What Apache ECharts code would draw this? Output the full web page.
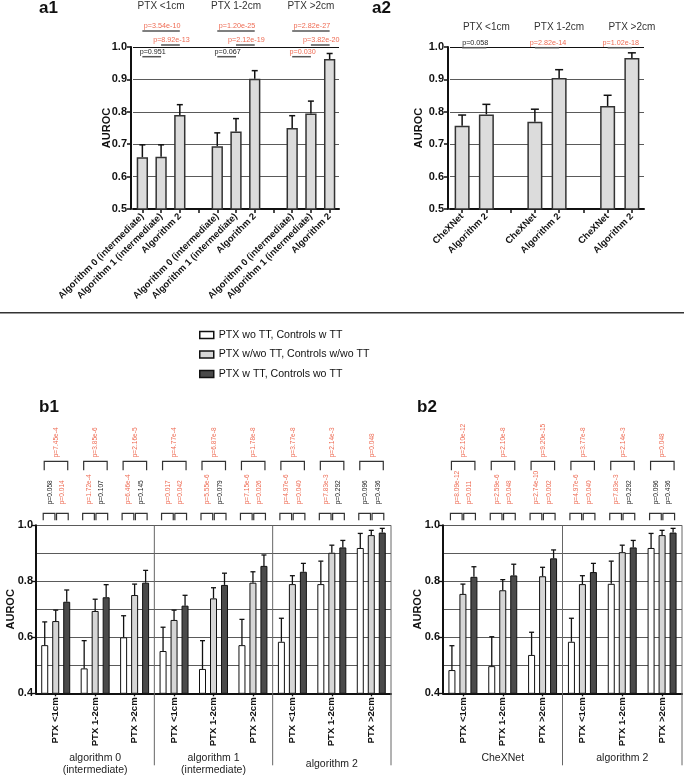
<!DOCTYPE html>
<html><head><meta charset="utf-8">
<script src="https://cdn.jsdelivr.net/npm/echarts@6/dist/echarts.min.js"></script>
<style>html,body{margin:0;padding:0;background:#fff}#c{width:684px;height:776px}</style>
</head><body><div id="c"></div>
<script>
// ---------------- data ----------------
const a1Categories = ['Algorithm 0 (intermediate)','Algorithm 1 (intermediate)','Algorithm 2','',
  'Algorithm 0 (intermediate)','Algorithm 1 (intermediate)','Algorithm 2','',
  'Algorithm 0 (intermediate)','Algorithm 1 (intermediate)','Algorithm 2'];
const a1Auroc = [0.660,0.661,0.790,null,0.694,0.739,0.902,null,0.750,0.795,0.963];
const a1Upper = [0.698,0.698,0.822,null,0.735,0.779,0.927,null,0.788,0.833,0.980];
const a1Groups = ['PTX <1cm','PTX 1-2cm','PTX >2cm'];
const a1GroupCenter = [1,5,9];
const a1PairFrom = [0,1,0, 4,5,4, 8,9,8];
const a1PairTo   = [2,2,1, 6,6,5, 10,10,9];
const a1PairLevel= [0,1,2, 0,1,2, 0,1,2];
const a1PValues  = ['3.54e-10','8.92e-13','0.951','1.20e-25','2.12e-19','0.067','2.82e-27','3.82e-20','0.030'];

const a2Categories = ['CheXNet','Algorithm 2','','CheXNet','Algorithm 2','','CheXNet','Algorithm 2'];
const a2Auroc = [0.757,0.792,null,0.769,0.904,null,0.818,0.966];
const a2Upper = [0.790,0.823,null,0.808,0.930,null,0.851,0.982];
const a2Groups = ['PTX <1cm','PTX 1-2cm','PTX >2cm'];
const a2GroupCenter = [0.5,3.5,6.5];
const a2PairFrom = [0,3,6];
const a2PairTo = [1,4,7];
const a2PValues = ['0.058','2.82e-14','1.02e-18'];

const seriesNames = ['PTX wo TT, Controls w TT','PTX w/wo TT, Controls w/wo TT','PTX w TT, Controls wo TT'];

const b1Categories = ['PTX <1cm','PTX 1-2cm','PTX >2cm','PTX <1cm','PTX 1-2cm','PTX >2cm','PTX <1cm','PTX 1-2cm','PTX >2cm'];
const b1Sections = ['algorithm 0\n(intermediate)','algorithm 1\n(intermediate)','algorithm 2'];
const b1White      = [0.572,0.489,0.600,0.551,0.487,0.572,0.584,0.790,0.919];
const b1WhiteUpper = [0.655,0.588,0.677,0.636,0.588,0.664,0.668,0.872,0.971];
const b1Light      = [0.658,0.694,0.751,0.662,0.739,0.795,0.790,0.902,0.965];
const b1LightUpper = [0.697,0.736,0.790,0.697,0.777,0.834,0.820,0.929,0.982];
const b1Dark       = [0.727,0.743,0.795,0.713,0.787,0.855,0.834,0.921,0.974];
const b1DarkUpper  = [0.769,0.788,0.839,0.750,0.829,0.894,0.864,0.946,0.989];
const b1PTop = ['7.45e-4','3.85e-6','2.16e-5','4.77e-4','6.87e-8','1.78e-8','3.77e-8','2.14e-3','0.048'];
const b1PWL  = ['0.058','1.72e-4','6.46e-4','0.017','5.55e-6','7.15e-6','4.97e-6','7.83e-3','0.096'];
const b1PLD  = ['0.014','0.107','0.145','0.042','0.079','0.026','0.040','0.292','0.436'];

const b2Categories = ['PTX <1cm','PTX 1-2cm','PTX >2cm','PTX <1cm','PTX 1-2cm','PTX >2cm'];
const b2Sections = ['CheXNet','algorithm 2'];
const b2White      = [0.483,0.497,0.537,0.584,0.791,0.919];
const b2WhiteUpper = [0.570,0.602,0.618,0.668,0.872,0.971];
const b2Light      = [0.755,0.768,0.818,0.790,0.904,0.965];
const b2LightUpper = [0.790,0.806,0.850,0.820,0.929,0.982];
const b2Dark       = [0.816,0.821,0.882,0.833,0.921,0.974];
const b2DarkUpper  = [0.852,0.861,0.912,0.864,0.946,0.989];
const b2PTop = ['2.10e-12','2.10e-8','9.20e-15','3.77e-8','2.14e-3','0.048'];
const b2PWL  = ['8.09e-12','2.59e-6','2.74e-10','4.97e-6','7.83e-3','0.096'];
const b2PLD  = ['0.011','0.048','0.002','0.040','0.292','0.436'];

// ---------------- style ----------------
const RED = '#ee6a52', BLACK = '#222';
const FA = "'Liberation Sans',Arial,sans-serif";
const pColor = s => parseFloat(s) < 0.05 ? RED : BLACK;
const GRIDC = '#5a5a5a';

function aErrSeries(xi, vals, ups, cap) {
  const data = [];
  vals.forEach((v, i) => { if (v != null) data.push([i, v, ups[i]]); });
  return { type:'custom', xAxisIndex:xi, yAxisIndex:xi, z:5, data, encode:{x:0,y:1},
    renderItem(p, api) {
      const b = api.coord([api.value(0), api.value(1)]);
      const t = api.coord([api.value(0), api.value(2)]);
      return { type:'group', children:[
        {type:'line', shape:{x1:b[0],y1:b[1],x2:t[0],y2:t[1]}, style:{stroke:'#111',lineWidth:1.5}},
        {type:'line', shape:{x1:t[0]-cap/2,y1:t[1],x2:t[0]+cap/2,y2:t[1]}, style:{stroke:'#111',lineWidth:1.5}}
      ]};
    }};
}

function bErrSeries(xi, sets, offs) {
  const data = [];
  sets.forEach((s, k) => s[0].forEach((v, i) => data.push([i, v, s[1][i], offs[k]])));
  return { type:'custom', xAxisIndex:xi, yAxisIndex:xi, z:5, data, encode:{x:0,y:1},
    renderItem(p, api) {
      const o = api.value(3);
      const b = api.coord([api.value(0), api.value(1)]);
      const t = api.coord([api.value(0), api.value(2)]);
      const x = b[0] + o;
      return { type:'group', children:[
        {type:'line', shape:{x1:x,y1:b[1],x2:x,y2:t[1]}, style:{stroke:'#111',lineWidth:1.3}},
        {type:'line', shape:{x1:x-2.5,y1:t[1],x2:x+2.5,y2:t[1]}, style:{stroke:'#111',lineWidth:1.3}}
      ]};
    }};
}

function vText(x, y, s) {
  return {type:'text', x, y, rotation:Math.PI/2,
    style:{x:0, y:0, text:'p=' + s, align:'left', verticalAlign:'middle', fill:pColor(s), fontSize:6.6, fontFamily:FA}};
}

function bAnnotSeries(xi, nCat, pTop, pWL, pLD) {
  const data = [];
  for (let i = 0; i < nCat; i++) data.push([i, 1.0]);
  return { type:'custom', xAxisIndex:xi, yAxisIndex:xi, z:6, data, encode:{x:0,y:1}, clip:false,
    renderItem(p, api) {
      const i = api.value(0);
      const c = api.coord([i, 1.0]);
      const xc = c[0], yT = c[1];
      const br = (x1, x2, yTop, leg) => ({type:'polyline',
        shape:{points:[[x1, yTop + leg],[x1, yTop],[x2, yTop],[x2, yTop + leg]]},
        style:{stroke:'#333', lineWidth:1.2, fill:null}});
      const ys = yT - 12, yl = yT - 64;
      return {type:'group', children:[
        br(xc - 12.5, xc - 0.8, ys, 7),
        br(xc + 0.8, xc + 12.5, ys, 7),
        br(xc - 11.5, xc + 12, yl, 9),
        vText(xc - 6, yT - 21, pWL[i]),
        vText(xc + 6.5, yT - 21, pLD[i]),
        vText(xc + 0.5, yT - 68, pTop[i])
      ]};
    }};
}

function bSepSeries(xi, idxs) {
  return { type:'custom', xAxisIndex:xi, yAxisIndex:xi, z:1, data: idxs.map(i => [i, 1.0]), encode:{x:0,y:1}, clip:false,
    renderItem(p, api) {
      const band = api.size([1, 0])[0];
      const c = api.coord([api.value(0), 1.0]);
      const bot = api.coord([api.value(0), 0.4])[1];
      const x = c[0] + band / 2;
      return {type:'line', shape:{x1:x, y1:c[1], x2:x, y2:bot + 72}, style:{stroke:'#666', lineWidth:1}};
    }};
}

function aAnnotSeries(xi, from, to, levels, pv, levelOff) {
  const data = from.map((f, k) => [f, 1.0, to[k], levels[k]]);
  return { type:'custom', xAxisIndex:xi, yAxisIndex:xi, z:6, data, encode:{x:0,y:1}, clip:false,
    renderItem(p, api) {
      const x1 = api.coord([api.value(0), 1.0])[0];
      const x2 = api.coord([api.value(2), 1.0])[0];
      const yT = api.coord([api.value(0), 1.0])[1];
      const ly = yT + levelOff[api.value(3)];
      const s = pv[p.dataIndex];
      return {type:'group', children:[
        {type:'line', shape:{x1, y1:ly, x2, y2:ly}, style:{stroke:'#555', lineWidth:1.5}},
        {type:'text', style:{x:(x1 + x2) / 2 + 1, y:ly - 1.2, text:'p=' + s, align:'center', verticalAlign:'bottom',
          fill:pColor(s), fontSize:7.2, fontFamily:FA}}
      ]};
    }};
}

function aTitleSeries(xi, centers, names, dy) {
  return { type:'custom', xAxisIndex:xi, yAxisIndex:xi, z:6, data: centers.map(c => [c, 1.0]), encode:{x:0,y:1}, clip:false,
    renderItem(p, api) {
      const c = api.coord([api.value(0), 1.0]);
      return {type:'text', style:{x:c[0], y:c[1] + dy, text:names[p.dataIndex], align:'center', verticalAlign:'middle',
        fill:'#333', fontSize:10, fontFamily:FA}};
    }};
}

const aX = (gi, data) => ({type:'category', gridIndex:gi, data,
  axisLine:{show:true, lineStyle:{color:'#111', width:2}},
  axisTick:{show:true, alignWithLabel:true, length:4, lineStyle:{color:'#111', width:1.5}},
  axisLabel:{interval:0, rotate:45, margin:6, fontSize:9.4, fontWeight:'bold', fontFamily:FA, color:'#111'},
  splitLine:{show:false}});
const aY = (gi, gap) => ({type:'value', gridIndex:gi, min:0.5, max:1.0, interval:0.1, offset:2,
  name:'AUROC', nameLocation:'middle', nameGap:gap, nameMoveOverlap:false,
  nameTextStyle:{fontSize:11, fontWeight:'bold', fontFamily:FA, color:'#111'},
  axisLine:{show:true, lineStyle:{color:'#111', width:2}},
  axisTick:{show:true, length:4, lineStyle:{color:'#111', width:1.5}},
  axisLabel:{margin:4, fontSize:11, fontWeight:'bold', fontFamily:FA, color:'#111', formatter:v => v.toFixed(1)},
  splitLine:{show:true, lineStyle:{color:[GRIDC, GRIDC, GRIDC, GRIDC, GRIDC, '#111'], width:1}}});
const bX = (gi, data) => ({type:'category', gridIndex:gi, data,
  axisLine:{show:true, lineStyle:{color:'#111', width:2}},
  axisTick:{show:true, alignWithLabel:true, length:3, lineStyle:{color:'#111', width:1.3}},
  axisLabel:{interval:0, rotate:90, margin:4, fontSize:9.6, fontWeight:'bold', fontFamily:FA, color:'#111'},
  splitLine:{show:false}});
const bSecX = (gi, data, margin, va) => ({type:'category', gridIndex:gi, data, position:'bottom',
  axisLine:{show:false}, axisTick:{show:false}, splitLine:{show:false},
  axisLabel:{interval:0, margin, verticalAlign:va, lineHeight:12, fontSize:10.5, fontFamily:FA, color:'#222'}});
const bY = (gi) => ({type:'value', gridIndex:gi, min:0.4, max:1.0, interval:0.2,
  name:'AUROC', nameLocation:'middle', nameGap:20, nameMoveOverlap:false,
  nameTextStyle:{fontSize:11, fontWeight:'bold', fontFamily:FA, color:'#111'},
  axisLine:{show:true, lineStyle:{color:'#111', width:2}},
  axisTick:{show:true, length:4, lineStyle:{color:'#111', width:1.3}},
  minorTick:{show:false, splitNumber:2},
  axisLabel:{margin:3, fontSize:11, fontWeight:'bold', fontFamily:FA, color:'#111', formatter:v => v.toFixed(1)},
  splitLine:{show:true, lineStyle:{color:GRIDC, width:1}},
  minorSplitLine:{show:true, lineStyle:{color:GRIDC, width:1}}});

const BCOL = ['#ffffff', '#d6d6d6', '#4a4a4a'];
const bBar = (xi, name, data, k) => ({type:'bar', name, xAxisIndex:xi, yAxisIndex:xi, data,
  barWidth:7, barGap:'57%', z:3,
  itemStyle:{color:BCOL[k], borderColor:'#111', borderWidth:1}});
const aBar = (xi, data, w) => ({type:'bar', xAxisIndex:xi, yAxisIndex:xi, data, barWidth:w, z:3,
  itemStyle:{color:'#dcdcdc', borderColor:'#333', borderWidth:1.5}});

const option = {
  animation:false,
  backgroundColor:'#fff',
  grid:[
    {left:133, top:47, width:206, height:162, outerBoundsMode:'none', containLabel:false},
    {left:450, top:47, width:194, height:162, outerBoundsMode:'none', containLabel:false},
    {left:36, top:525.3, width:355, height:168, outerBoundsMode:'none', containLabel:false},
    {left:443, top:525.3, width:239, height:168, outerBoundsMode:'none', containLabel:false}
  ],
  xAxis:[aX(0, a1Categories), aX(1, a2Categories), bX(2, b1Categories), bX(3, b2Categories),
    bSecX(2, b1Sections, 70.5, 'middle'), bSecX(3, b2Sections, 65, 'middle')],
  yAxis:[aY(0, 19), aY(1, 24), bY(2), bY(3)],
  legend:{orient:'vertical', left:199, top:328, itemWidth:14, itemHeight:7, itemGap:5.5, icon:'rect', padding:0,
    selectedMode:false, textStyle:{fontFamily:FA, fontSize:10.6, color:'#111', lineHeight:14},
    itemStyle:{borderColor:'#111', borderWidth:1.5}, data:seriesNames},
  graphic:[
    {type:'text', left:39, top:0, style:{text:'a1', fontSize:17, fontWeight:'bold', fontFamily:FA, fill:'#111'}},
    {type:'text', left:372, top:0, style:{text:'a2', fontSize:17, fontWeight:'bold', fontFamily:FA, fill:'#111'}},
    {type:'text', left:39, top:399, style:{text:'b1', fontSize:17, fontWeight:'bold', fontFamily:FA, fill:'#111'}},
    {type:'text', left:417, top:399, style:{text:'b2', fontSize:17, fontWeight:'bold', fontFamily:FA, fill:'#111'}},
    {type:'line', shape:{x1:0, y1:312.7, x2:684, y2:312.7}, style:{stroke:'#333', lineWidth:1.5}}
  ],
  series:[
    aBar(0, a1Auroc, 11.3), aErrSeries(0, a1Auroc, a1Upper, 6),
    aAnnotSeries(0, a1PairFrom, a1PairTo, a1PairLevel, a1PValues, [-16, -2, 9.7]),
    aTitleSeries(0, a1GroupCenter, a1Groups, -41),
    aBar(1, a2Auroc, 15), aErrSeries(1, a2Auroc, a2Upper, 8),
    aAnnotSeries(1, a2PairFrom, a2PairTo, [0,0,0], a2PValues, [0.7]),
    aTitleSeries(1, a2GroupCenter, a2Groups, -19.3),
    bSepSeries(2, [2, 5, 8]),
    bBar(2, seriesNames[0], b1White, 0), bBar(2, seriesNames[1], b1Light, 1), bBar(2, seriesNames[2], b1Dark, 2),
    bErrSeries(2, [[b1White, b1WhiteUpper], [b1Light, b1LightUpper], [b1Dark, b1DarkUpper]], [-11, 0, 11]),
    bAnnotSeries(2, b1Categories.length, b1PTop, b1PWL, b1PLD),
    bSepSeries(3, [2, 5]),
    bBar(3, seriesNames[0], b2White, 0), bBar(3, seriesNames[1], b2Light, 1), bBar(3, seriesNames[2], b2Dark, 2),
    bErrSeries(3, [[b2White, b2WhiteUpper], [b2Light, b2LightUpper], [b2Dark, b2DarkUpper]], [-11, 0, 11]),
    bAnnotSeries(3, b2Categories.length, b2PTop, b2PWL, b2PLD)
  ]
};
const chart = echarts.init(document.getElementById('c'), null, {renderer:'canvas'});
chart.setOption(option);
</script></body></html>
